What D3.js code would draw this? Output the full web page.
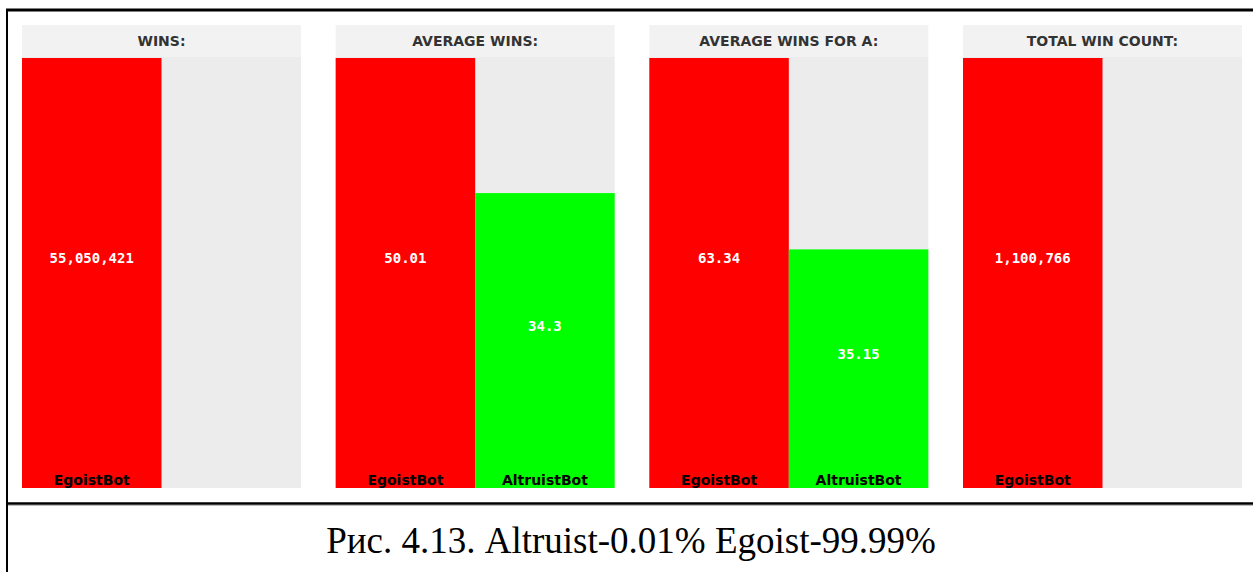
<!DOCTYPE html>
<html>
<head>
<meta charset="utf-8">
<script src="https://cdn.jsdelivr.net/npm/d3@7/dist/d3.min.js"></script>
<style>
  html, body { margin: 0; padding: 0; background: #fff; }
  svg { display: block; }
</style>
</head>
<body>
<svg id="chart" width="1253" height="572"></svg>
<script>
// ---- data ----
const panels = ["WINS:", "AVERAGE WINS:", "AVERAGE WINS FOR A:", "TOTAL WIN COUNT:"];
const bots = ["EgoistBot", "AltruistBot"];
const egoistValues = [55050421, 50.01, 63.34, 1100766];
const altruistValues = [null, 34.3, 35.15, null];
const valueLabels = [
  ["55,050,421", null],
  ["50.01", "34.3"],
  ["63.34", "35.15"],
  ["1,100,766", null]
];
const botColors = ["#ff0000", "#00ff00"];
const caption = "Рис. 4.13. Altruist-0.01% Egoist-99.99%";

// ---- layout ----
const svg = d3.select("#chart");
const W = 1253, H = 572;
const plotTop = 58, plotBottom = 488, headTop = 25;

const xPanel = d3.scaleBand().domain(panels).range([22, 1242]).paddingInner(0.1105);
const xBot = d3.scaleBand().domain(bots).range([0, xPanel.bandwidth()]);

// frame lines
svg.append("line").attr("x1", 6).attr("x2", W).attr("y1", 10).attr("y2", 10)
  .attr("stroke", "#000").attr("stroke-width", 3);
svg.append("line").attr("x1", 7).attr("x2", 7).attr("y1", 9).attr("y2", H)
  .attr("stroke", "#000").attr("stroke-width", 2);
svg.append("line").attr("x1", 6).attr("x2", W).attr("y1", 503.5).attr("y2", 503.5)
  .attr("stroke", "#000").attr("stroke-width", 2.5);
svg.append("line").attr("x1", 8).attr("x2", W).attr("y1", 505.5).attr("y2", 505.5)
  .attr("stroke", "#bbb").attr("stroke-width", 1);

panels.forEach((p, i) => {
  const g = svg.append("g").attr("transform", `translate(${xPanel(p)},0)`);
  const bw = xPanel.bandwidth();
  // header
  g.append("rect").attr("x", 0).attr("y", headTop).attr("width", bw).attr("height", plotTop - headTop)
    .attr("fill", "#f2f2f2");
  g.append("text").attr("x", bw / 2).attr("y", 46).attr("text-anchor", "middle")
    .attr("font-family", "DejaVu Sans").attr("font-weight", "bold").attr("font-size", 14)
    .attr("fill", "#333").text(p);
  // plot background
  g.append("rect").attr("x", 0).attr("y", plotTop - 1).attr("width", bw).attr("height", plotBottom - plotTop + 1)
    .attr("fill", "#ececec");

  const vals = [egoistValues[i], altruistValues[i]];
  const maxV = d3.max(vals.filter(v => v != null));
  const y = d3.scaleLinear().domain([0, maxV]).range([plotBottom, plotTop]);

  const data = bots.map((b, j) => ({ bot: b, value: vals[j], label: valueLabels[i][j], color: botColors[j] }))
    .filter(d => d.value != null);

  g.selectAll("rect.bar").data(data).enter().append("rect").attr("class", "bar")
    .attr("x", d => xBot(d.bot)).attr("width", xBot.bandwidth())
    .attr("y", d => y(d.value)).attr("height", d => plotBottom - y(d.value))
    .attr("fill", d => d.color);

  g.selectAll("text.val").data(data).enter().append("text").attr("class", "val")
    .attr("x", d => xBot(d.bot) + xBot.bandwidth() / 2)
    .attr("y", d => (y(d.value) + plotBottom) / 2 - 10)
    .attr("text-anchor", "middle")
    .attr("font-family", "DejaVu Sans Mono").attr("font-weight", "bold").attr("font-size", 14)
    .attr("fill", "#fff").text(d => d.label);

  g.selectAll("text.name").data(data).enter().append("text").attr("class", "name")
    .attr("x", d => xBot(d.bot) + xBot.bandwidth() / 2)
    .attr("y", 485)
    .attr("text-anchor", "middle")
    .attr("font-family", "DejaVu Sans").attr("font-weight", "bold").attr("font-size", 14)
    .attr("fill", "#000").text(d => d.bot);
});

svg.append("text").attr("x", 631).attr("y", 553).attr("text-anchor", "middle")
  .attr("font-family", "Liberation Serif, Times New Roman, serif").attr("font-size", 37)
  .attr("fill", "#000").text(caption);
</script>
</body>
</html>
